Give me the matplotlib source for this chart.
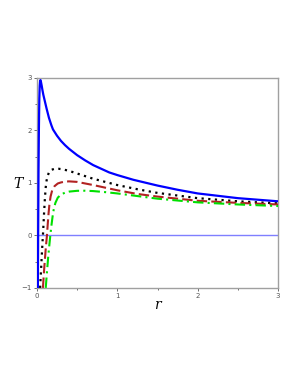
import matplotlib
matplotlib.use("Agg")
import matplotlib.pyplot as plt
from matplotlib.ticker import MultipleLocator

# Data
r_blue = [0.012, 0.02, 0.025, 0.03, 0.035, 0.04, 0.045, 0.05, 0.06, 0.07, 0.08, 0.1, 0.12, 0.15, 0.18, 0.2,
          0.25, 0.3, 0.35, 0.4, 0.5, 0.6, 0.7, 0.8, 0.9, 1.0, 1.2, 1.5, 1.75, 2.0, 2.5, 3.0]
T_blue = [-1.0, 1.2, 2.05, 2.6, 2.85, 2.95, 2.96, 2.93, 2.85, 2.76, 2.68, 2.55, 2.42, 2.24, 2.1, 2.02,
          1.9, 1.8, 1.72, 1.65, 1.53, 1.43, 1.34, 1.27, 1.2, 1.15, 1.06, 0.95, 0.87, 0.80, 0.71, 0.65]

r_black = [0.04, 0.05, 0.06, 0.07, 0.075, 0.08, 0.09, 0.1, 0.11, 0.12, 0.13, 0.15, 0.18, 0.22, 0.27, 0.32,
           0.4, 0.5, 0.6, 0.7, 0.85, 1.0, 1.25, 1.5, 2.0, 2.5, 3.0]
T_black = [-1.0, -0.7, -0.4, -0.12, 0.0, 0.15, 0.45, 0.72, 0.92, 1.04, 1.12, 1.2, 1.25, 1.27, 1.27, 1.26,
           1.23, 1.18, 1.13, 1.08, 1.02, 0.96, 0.88, 0.81, 0.71, 0.65, 0.61]

r_brown = [0.075, 0.09, 0.1, 0.11, 0.125, 0.135, 0.145, 0.155, 0.17, 0.19, 0.22, 0.26, 0.3, 0.35, 0.4,
           0.5, 0.6, 0.7, 0.85, 1.0, 1.25, 1.5, 2.0, 2.5, 3.0]
T_brown = [-1.0, -0.65, -0.45, -0.25, 0.0, 0.22, 0.42, 0.58, 0.74, 0.86, 0.94, 0.99, 1.01, 1.025, 1.03,
           1.02, 0.99, 0.96, 0.91, 0.86, 0.79, 0.74, 0.66, 0.62, 0.59]

r_green = [0.11, 0.125, 0.14, 0.155, 0.167, 0.18, 0.195, 0.21, 0.23, 0.26, 0.3, 0.35, 0.4, 0.5, 0.6, 0.7,
           0.85, 1.0, 1.25, 1.5, 2.0, 2.5, 3.0]
T_green = [-1.0, -0.7, -0.42, -0.18, 0.0, 0.18, 0.36, 0.5, 0.62, 0.72, 0.78, 0.815, 0.835, 0.85, 0.852, 0.845,
           0.825, 0.80, 0.75, 0.70, 0.63, 0.59, 0.56]

x_ticks = [0, 1, 2, 3]
y_ticks = [-1, 0, 1, 2, 3]

fig = plt.figure(figsize=(3.0, 3.88), dpi=100)
ax = fig.add_axes([0.123, 0.258, 0.804, 0.541])

ax.axhline(0, color="#7f7fff", lw=1.0, zorder=1)
ax.plot(r_blue, T_blue, color="#0000ff", lw=1.6, zorder=3)
ax.plot(r_black, T_black, color="black", lw=1.6, linestyle=(0, (1, 2)), zorder=3)
ax.plot(r_brown, T_brown, color="#b22222", lw=1.5, linestyle=(0, (5, 2)), zorder=3)
ax.plot(r_green, T_green, color="#00e000", lw=1.5, linestyle=(0, (5, 2, 1, 2)), zorder=3)

ax.set_xlim(0, 3)
ax.set_ylim(-1, 3)
ax.set_xticks(x_ticks)
ax.set_yticks(y_ticks)
ax.xaxis.set_minor_locator(MultipleLocator(0.5))
ax.yaxis.set_minor_locator(MultipleLocator(0.5))
ax.tick_params(which="both", labelsize=5, colors="#555555", length=2, width=0.6, pad=1.5)
ax.tick_params(which="minor", length=1.2)
for s in ax.spines.values():
    s.set_color("#a0a0a0")
    s.set_linewidth(1.0)

fig.text(18/300, 1 - 184/388, "T", fontsize=10, fontstyle="italic", family="DejaVu Serif", ha="center", va="center")
fig.text(157/300, 1 - 305/388, "r", fontsize=10, fontstyle="italic", family="DejaVu Serif", ha="center", va="center")

fig.savefig("out.png", dpi=100)
